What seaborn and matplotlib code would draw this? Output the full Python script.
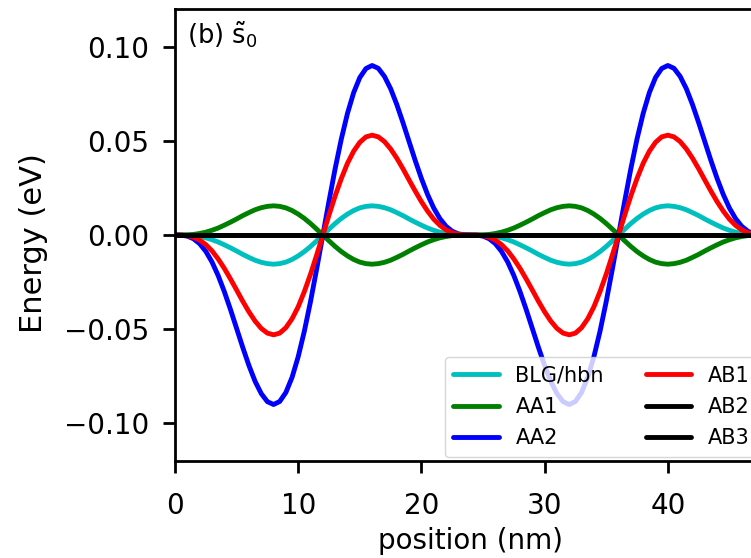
import numpy as np
import matplotlib
matplotlib.use("Agg")
import matplotlib.pyplot as plt
import seaborn as sns

# Position grid along the sample (nm), 0.5 nm step from 0 to 48 nm
position = np.arange(0, 48.5, 0.5)

# Energy profiles (eV) sampled on the position grid
blg_hbn = [
    0.0, 0.0000, -0.0001, -0.0003, -0.0008, -0.0015, -0.0025, -0.0037, -0.0052, -0.0068, -0.0085, -0.0103,
    -0.0119, -0.0134, -0.0145, -0.0152, -0.0155, -0.0152, -0.0144, -0.0130, -0.0111, -0.0088, -0.0061, -0.0031, 0.0,
    0.0031, 0.0061, 0.0088, 0.0111, 0.0130, 0.0144, 0.0152, 0.0155, 0.0152, 0.0145, 0.0134, 0.0119,
    0.0103, 0.0085, 0.0068, 0.0052, 0.0037, 0.0025, 0.0015, 0.0008, 0.0003, 0.0001, 0.0000, 0.0,
    0.0000, -0.0001, -0.0003, -0.0008, -0.0015, -0.0025, -0.0037, -0.0052, -0.0068, -0.0085, -0.0103,
    -0.0119, -0.0134, -0.0145, -0.0152, -0.0155, -0.0152, -0.0144, -0.0130, -0.0111, -0.0088, -0.0061, -0.0031, 0.0,
    0.0031, 0.0061, 0.0088, 0.0111, 0.0130, 0.0144, 0.0152, 0.0155, 0.0152, 0.0145, 0.0134, 0.0119,
    0.0103, 0.0085, 0.0068, 0.0052, 0.0037, 0.0025, 0.0015, 0.0008, 0.0003, 0.0001, 0.0000, 0.0,
]
aa1 = [
    0.0, 0.0000, 0.0001, 0.0003, 0.0008, 0.0015, 0.0025, 0.0037, 0.0052, 0.0068, 0.0085, 0.0103,
    0.0119, 0.0134, 0.0145, 0.0152, 0.0155, 0.0152, 0.0144, 0.0130, 0.0111, 0.0088, 0.0061, 0.0031, 0.0,
    -0.0031, -0.0061, -0.0088, -0.0111, -0.0130, -0.0144, -0.0152, -0.0155, -0.0152, -0.0145, -0.0134, -0.0119,
    -0.0103, -0.0085, -0.0068, -0.0052, -0.0037, -0.0025, -0.0015, -0.0008, -0.0003, -0.0001, 0.0000, 0.0,
    0.0000, 0.0001, 0.0003, 0.0008, 0.0015, 0.0025, 0.0037, 0.0052, 0.0068, 0.0085, 0.0103,
    0.0119, 0.0134, 0.0145, 0.0152, 0.0155, 0.0152, 0.0144, 0.0130, 0.0111, 0.0088, 0.0061, 0.0031, 0.0,
    -0.0031, -0.0061, -0.0088, -0.0111, -0.0130, -0.0144, -0.0152, -0.0155, -0.0152, -0.0145, -0.0134, -0.0119,
    -0.0103, -0.0085, -0.0068, -0.0052, -0.0037, -0.0025, -0.0015, -0.0008, -0.0003, -0.0001, 0.0000, 0.0,
]
aa2 = [
    0.0, -0.0001, -0.0006, -0.0020, -0.0046, -0.0087, -0.0143, -0.0215, -0.0300, -0.0395, -0.0496, -0.0597,
    -0.0693, -0.0777, -0.0842, -0.0885, -0.0900, -0.0884, -0.0836, -0.0756, -0.0646, -0.0510, -0.0353, -0.0180, 0.0,
    0.0180, 0.0353, 0.0510, 0.0646, 0.0756, 0.0836, 0.0884, 0.0900, 0.0885, 0.0842, 0.0777, 0.0693,
    0.0597, 0.0496, 0.0395, 0.0300, 0.0215, 0.0143, 0.0087, 0.0046, 0.0020, 0.0006, 0.0001, 0.0,
    -0.0001, -0.0006, -0.0020, -0.0046, -0.0087, -0.0143, -0.0215, -0.0300, -0.0395, -0.0496, -0.0597,
    -0.0693, -0.0777, -0.0842, -0.0885, -0.0900, -0.0884, -0.0836, -0.0756, -0.0646, -0.0510, -0.0353, -0.0180, 0.0,
    0.0180, 0.0353, 0.0510, 0.0646, 0.0756, 0.0836, 0.0884, 0.0900, 0.0885, 0.0842, 0.0777, 0.0693,
    0.0597, 0.0496, 0.0395, 0.0300, 0.0215, 0.0143, 0.0087, 0.0046, 0.0020, 0.0006, 0.0001, 0.0,
]
ab1 = [
    0.0, 0.0000, -0.0004, -0.0012, -0.0027, -0.0051, -0.0084, -0.0127, -0.0177, -0.0233, -0.0292, -0.0352,
    -0.0408, -0.0457, -0.0496, -0.0521, -0.0530, -0.0521, -0.0492, -0.0445, -0.0381, -0.0300, -0.0208, -0.0106, 0.0,
    0.0106, 0.0208, 0.0300, 0.0381, 0.0445, 0.0492, 0.0521, 0.0530, 0.0521, 0.0496, 0.0457, 0.0408,
    0.0352, 0.0292, 0.0233, 0.0177, 0.0127, 0.0084, 0.0051, 0.0027, 0.0012, 0.0004, 0.0000, 0.0,
    0.0000, -0.0004, -0.0012, -0.0027, -0.0051, -0.0084, -0.0127, -0.0177, -0.0233, -0.0292, -0.0352,
    -0.0408, -0.0457, -0.0496, -0.0521, -0.0530, -0.0521, -0.0492, -0.0445, -0.0381, -0.0300, -0.0208, -0.0106, 0.0,
    0.0106, 0.0208, 0.0300, 0.0381, 0.0445, 0.0492, 0.0521, 0.0530, 0.0521, 0.0496, 0.0457, 0.0408,
    0.0352, 0.0292, 0.0233, 0.0177, 0.0127, 0.0084, 0.0051, 0.0027, 0.0012, 0.0004, 0.0000, 0.0,
]
ab2 = [0.0] * len(position)
ab3 = [0.0] * len(position)

series_names = ["BLG/hbn", "AA1", "AA2", "AB1", "AB2", "AB3"]
series_values = [blg_hbn, aa1, aa2, ab1, ab2, ab3]
series_colors = ["c", "g", "b", "r", "k", "k"]

x_ticks = [0, 10, 20, 30, 40]
y_ticks = [-0.10, -0.05, 0.00, 0.05, 0.10]
y_tick_labels = ["\u22120.10", "\u22120.05", "0.00", "0.05", "0.10"]

sns.set_style("ticks", {
    "axes.edgecolor": "black",
    "axes.labelcolor": "black",
    "text.color": "black",
    "xtick.color": "black",
    "ytick.color": "black",
    "xtick.direction": "out",
    "ytick.direction": "out",
})
plt.rcParams["font.family"] = ["DejaVu Sans"]
plt.rcParams["mathtext.fontset"] = "dejavusans"

fig = plt.figure(figsize=(7.51, 5.58), dpi=100)
# the plotting area runs past the right edge of the canvas (x up to 48 nm)
ax = fig.add_axes([175 / 751, 97 / 558, 591.4 / 751, 452 / 558])

for name, vals, col in zip(series_names, series_values, series_colors):
    sns.lineplot(x=position, y=vals, color=col, linewidth=3.5, label=name,
                 estimator=None, sort=False, ax=ax, legend=False)

ax.set_xlim(0, 48)
ax.set_ylim(-0.12, 0.12)
ax.set_xticks(x_ticks)
ax.set_yticks(y_ticks)
ax.set_yticklabels(y_tick_labels)
ax.tick_params(length=8.5, width=2, labelsize=20)
ax.tick_params(axis="x", pad=14)
ax.tick_params(axis="y", pad=10)
for sp in ax.spines.values():
    sp.set_linewidth(2)
    sp.set_visible(True)

ax.set_xlabel("position (nm)", fontsize=20, labelpad=5)
ax.set_ylabel("Energy (eV)", fontsize=22)
ax.yaxis.set_label_coords(-0.214, 0.482)

ax.text(0.02, 0.978, r"(b) $\tilde{\mathrm{s}}_0$", transform=ax.transAxes,
        fontsize=18.5, ha="left", va="top")

ax.legend(ncol=2, loc="lower right", bbox_to_anchor=(0.986, 0.0093),
          fontsize=15, handlelength=2.2, labelspacing=0.55, borderaxespad=0,
          framealpha=0.8, edgecolor="0.8", fancybox=True, columnspacing=2.0)

fig.savefig("out.png", dpi=100)
